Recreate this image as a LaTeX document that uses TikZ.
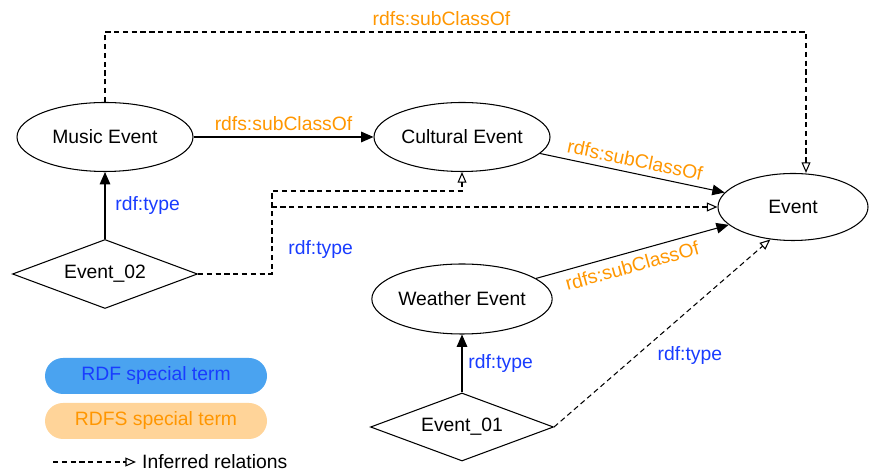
\documentclass[tikz,border=0pt]{standalone}
\usepackage{fontspec}
\setmainfont{Liberation Sans}
\usetikzlibrary{shapes.geometric,arrows.meta}
\definecolor{rdfsorange}{RGB}{255,150,0}
\definecolor{rdfblue}{RGB}{25,60,255}
\definecolor{rdffill}{RGB}{74,163,240}
\definecolor{rdfsfill}{RGB}{255,212,153}

\begin{document}
\begin{tikzpicture}[
            font=\fontsize{11}{13}\selectfont,
            cls/.style={draw, ellipse, line width=0.6pt, minimum width=3.52cm, minimum height=1.38cm, inner sep=0pt},
            inst/.style={draw, diamond, shape aspect=2.7, line width=0.6pt, minimum width=3.7cm, minimum height=1.38cm, inner sep=0pt},
            pill/.style={rounded corners=0.36cm, minimum width=4.44cm, minimum height=0.72cm},
            rel/.style={line width=0.6pt, -{Triangle[length=7pt,width=6pt]}},
            inferred/.style={line width=0.6pt, dash pattern=on 3pt off 2pt, -{Triangle[open,length=6pt,width=5pt]}},
            sublbl/.style={text=rdfsorange},
            typelbl/.style={text=rdfblue}
        ]
            \useasboundingbox (0,0) rectangle (17.68,9.42);
            \node[cls] (music) at (2.1,6.68) {Music Event};
            \node[cls] (cultural) at (9.24,6.68) {Cultural Event};
            \node[cls, minimum width=3.0cm, minimum height=1.34cm] (event) at (15.86,5.28) {Event};
            \node[cls, minimum width=3.46cm, minimum height=1.4cm] (weather) at (9.24,3.44) {Weather Event};
            \node[inst] (e02) at (2.1,3.94) {Event\_02};
            \node[inst, minimum width=3.66cm, minimum height=1.36cm] (e01) at (9.24,0.88) {Event\_01};

            \draw[rel] (music) -- node[above, sublbl] {rdfs:subClassOf} (cultural);
            \draw[rel] (cultural) -- node[sloped, above, sublbl] {rdfs:subClassOf} (event);
            \draw[rel] (weather) -- node[sloped, below, pos=0.48, sublbl] {rdfs:subClassOf} (event);
            \draw[rel] (e02) -- node[right=0.08cm, typelbl] {rdf:type} (music);
            \draw[rel] (e01) -- node[right, typelbl] {rdf:type} (weather);

            \coordinate (tr) at (16.12,8.78);
            \coordinate (bend) at (5.44,5.6);
            \draw[inferred] (music.north) |- node[pos=0.74, above, sublbl] {rdfs:subClassOf} (tr) -- (tr |- event.north);
            \draw[inferred] (e02.east) -| (bend) -| (cultural.south);
            \draw[inferred] (e02.east) -| node[pos=0.68, right=0.2cm, typelbl] {rdf:type} (bend |- event.west) -- (event.west);
            \draw[inferred] (e01.east) -- node[pos=0.38, right=0.3cm, typelbl] {rdf:type} (event.235);

            \node[pill, fill=rdffill, text=rdfblue] (rdfkey) at (3.12,1.9) {RDF special term};
            \node[pill, fill=rdfsfill, text=rdfsorange] (rdfskey) at (3.12,1.0) {RDFS special term};
            \coordinate (keystart) at (1.06,0.18);
            \node[anchor=west] (keytext) at (2.72,0.18) {Inferred relations};
            \draw[inferred] (keystart) -- (keytext.west);
        \end{tikzpicture}
\end{document}
